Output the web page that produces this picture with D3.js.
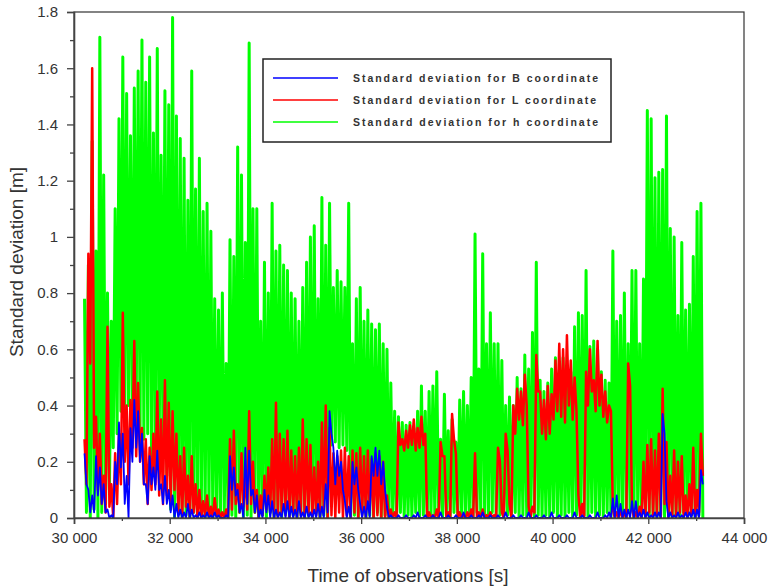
<!DOCTYPE html>
<html>
<head>
<meta charset="utf-8">
<script src="https://cdn.jsdelivr.net/npm/d3@7"></script>
<style>
  body { margin: 0; background: #fff; }
  text { font-family: "Liberation Sans", Arial, sans-serif; }
</style>
</head>
<body>
<div id="container"></div>
<script>

// values are sampled every 40 s starting at 30 220 s, alternating local high / local low
const sampleStart = 30220;
const sampleStep = 40;

// h coordinate (green)
const greenHi = [
    0.78, 0.90, 1.34, 0.95, 1.71, 1.22, 0.80, 0.70, 1.10, 1.42,
    1.64, 1.51, 1.36, 1.53, 1.59, 1.70, 1.55, 1.64, 1.37, 1.67,
    1.29, 1.52, 1.47, 1.78, 1.43, 1.35, 1.28, 1.13, 1.59, 1.17,
    1.28, 1.09, 1.12, 1.02, 0.78, 0.74, 0.80, 0.55, 0.99, 0.93,
    1.32, 1.22, 0.98, 1.69, 1.10, 1.10, 0.70, 0.91, 0.80, 1.12,
    0.95, 0.97, 0.90, 0.88, 0.80, 0.78, 0.70, 0.82, 0.91, 1.00,
    1.04, 0.78, 1.14, 0.97, 1.12, 0.82, 0.88, 0.84, 0.82, 1.12,
    0.62, 0.78, 0.82, 0.70, 0.74, 0.69, 0.67, 0.69, 0.62, 0.60,
    0.48, 0.38, 0.36, 0.34, 0.33, 0.34, 0.32, 0.38, 0.47, 0.38,
    0.45, 0.47, 0.52, 0.28, 0.44, 0.31, 0.35, 0.27, 0.42, 0.45,
    0.40, 0.50, 1.01, 0.53, 0.94, 0.62, 0.73, 0.62, 0.62, 0.56,
    0.40, 0.43, 0.40, 0.50, 0.46, 0.58, 0.53, 0.66, 0.91, 0.49,
    0.45, 0.48, 0.53, 0.57, 0.49, 0.57, 0.48, 0.52, 0.68, 0.73,
    0.72, 0.88, 0.61, 0.63, 0.60, 0.52, 0.49, 0.48, 0.95, 0.70,
    0.72, 0.80, 0.62, 0.88, 0.88, 0.62, 0.85, 1.45, 1.42, 1.21,
    1.23, 1.24, 1.43, 1.03, 1.00, 0.72, 0.98, 0.74, 0.76, 0.93,
    1.09, 1.12
];
const greenLo = [
    0.02, 0.00, 0.03, 0.00, 0.02, 0.05, 0.10, 0.25, 0.30, 0.38,
    0.36, 0.40, 0.35, 0.38, 0.30, 0.28, 0.30, 0.22, 0.20, 0.24,
    0.22, 0.15, 0.03, 0.00, 0.02, 0.00, 0.01, 0.00, 0.02, 0.00,
    0.01, 0.00, 0.02, 0.00, 0.01, 0.00, 0.02, 0.00, 0.01, 0.00,
    0.02, 0.00, 0.01, 0.00, 0.02, 0.00, 0.01, 0.00, 0.02, 0.00,
    0.01, 0.00, 0.02, 0.00, 0.01, 0.00, 0.02, 0.00, 0.01, 0.00,
    0.02, 0.00, 0.01, 0.00, 0.26, 0.27, 0.25, 0.26, 0.24, 0.00,
    0.01, 0.00, 0.02, 0.00, 0.01, 0.00, 0.02, 0.00, 0.01, 0.00,
    0.01, 0.00, 0.02, 0.00, 0.01, 0.00, 0.02, 0.00, 0.01, 0.00,
    0.01, 0.00, 0.02, 0.00, 0.01, 0.00, 0.02, 0.00, 0.01, 0.00,
    0.01, 0.00, 0.02, 0.00, 0.01, 0.00, 0.02, 0.00, 0.01, 0.00,
    0.01, 0.00, 0.02, 0.00, 0.01, 0.00, 0.02, 0.00, 0.01, 0.00,
    0.01, 0.00, 0.02, 0.00, 0.01, 0.00, 0.02, 0.00, 0.01, 0.00,
    0.01, 0.00, 0.02, 0.00, 0.01, 0.00, 0.02, 0.00, 0.01, 0.00,
    0.01, 0.00, 0.02, 0.00, 0.01, 0.00, 0.02, 0.00, 0.01, 0.00,
    0.01, 0.00, 0.02, 0.00, 0.01, 0.00, 0.02, 0.00, 0.01, 0.00,
    0.01, 0.00
];

// L coordinate (red)
const redHi = [
    0.28, 0.94, 1.60, 0.36, 0.30, 0.15, 0.68, 0.12, 0.23, 0.30,
    0.73, 0.40, 0.42, 0.63, 0.48, 0.32, 0.28, 0.25, 0.30, 0.45,
    0.35, 0.49, 0.41, 0.38, 0.30, 0.22, 0.25, 0.15, 0.22, 0.12,
    0.10, 0.06, 0.08, 0.04, 0.07, 0.03, 0.02, 0.03, 0.28, 0.31,
    0.12, 0.23, 0.15, 0.38, 0.20, 0.10, 0.08, 0.15, 0.18, 0.28,
    0.41, 0.30, 0.28, 0.31, 0.24, 0.22, 0.25, 0.35, 0.28, 0.26,
    0.18, 0.20, 0.34, 0.40, 0.32, 0.23, 0.22, 0.24, 0.25, 0.22,
    0.24, 0.23, 0.25, 0.22, 0.24, 0.21, 0.23, 0.22, 0.20, 0.08,
    0.03, 0.02, 0.34, 0.28, 0.31, 0.33, 0.35, 0.32, 0.36, 0.30,
    0.02, 0.01, 0.03, 0.27, 0.22, 0.02, 0.37, 0.23, 0.02, 0.01,
    0.02, 0.03, 0.23, 0.02, 0.03, 0.01, 0.02, 0.01, 0.25, 0.02,
    0.30, 0.05, 0.40, 0.46, 0.45, 0.51, 0.04, 0.04, 0.58, 0.45,
    0.42, 0.47, 0.44, 0.56, 0.62, 0.60, 0.65, 0.56, 0.50, 0.08,
    0.05, 0.52, 0.60, 0.49, 0.63, 0.51, 0.45, 0.40, 0.03, 0.02,
    0.03, 0.02, 0.55, 0.04, 0.02, 0.04, 0.20, 0.26, 0.28, 0.24,
    0.30, 0.46, 0.27, 0.15, 0.24, 0.20, 0.22, 0.08, 0.12, 0.25,
    0.10, 0.30
];
const redLo = [
    0.12, 0.55, 0.25, 0.10, 0.05, 0.02, 0.04, 0.00, 0.05, 0.12,
    0.20, 0.12, 0.25, 0.22, 0.20, 0.12, 0.05, 0.10, 0.12, 0.08,
    0.05, 0.08, 0.05, 0.10, 0.02, 0.00, 0.04, 0.00, 0.02, 0.00,
    0.00, 0.01, 0.00, 0.00, 0.01, 0.00, 0.00, 0.00, 0.03, 0.05,
    0.02, 0.04, 0.03, 0.05, 0.02, 0.00, 0.01, 0.03, 0.02, 0.00,
    0.00, 0.02, 0.01, 0.00, 0.02, 0.00, 0.01, 0.00, 0.02, 0.00,
    0.01, 0.00, 0.02, 0.00, 0.01, 0.00, 0.02, 0.00, 0.01, 0.00,
    0.02, 0.00, 0.01, 0.00, 0.02, 0.00, 0.01, 0.00, 0.00, 0.00,
    0.00, 0.00, 0.26, 0.24, 0.25, 0.26, 0.24, 0.25, 0.26, 0.00,
    0.00, 0.00, 0.00, 0.22, 0.00, 0.00, 0.28, 0.00, 0.00, 0.00,
    0.00, 0.00, 0.00, 0.00, 0.00, 0.00, 0.00, 0.00, 0.20, 0.00,
    0.24, 0.00, 0.30, 0.35, 0.33, 0.40, 0.00, 0.02, 0.45, 0.30,
    0.28, 0.30, 0.35, 0.38, 0.36, 0.34, 0.40, 0.35, 0.38, 0.00,
    0.00, 0.40, 0.45, 0.38, 0.40, 0.36, 0.34, 0.38, 0.00, 0.00,
    0.00, 0.00, 0.47, 0.00, 0.00, 0.00, 0.00, 0.02, 0.00, 0.01,
    0.00, 0.05, 0.00, 0.01, 0.00, 0.02, 0.00, 0.00, 0.01, 0.00,
    0.02, 0.15
];

// B coordinate (blue)
const blueHi = [
    0.23, 0.10, 0.08, 0.22, 0.18, 0.12, 0.03, 0.01, 0.20, 0.34,
    0.30, 0.15, 0.32, 0.42, 0.38, 0.30, 0.12, 0.22, 0.18, 0.24,
    0.12, 0.15, 0.10, 0.08, 0.05, 0.03, 0.02, 0.05, 0.03, 0.01,
    0.02, 0.01, 0.02, 0.01, 0.02, 0.01, 0.00, 0.01, 0.22, 0.18,
    0.10, 0.05, 0.25, 0.24, 0.10, 0.08, 0.03, 0.10, 0.08, 0.06,
    0.03, 0.02, 0.05, 0.06, 0.04, 0.03, 0.06, 0.02, 0.04, 0.02,
    0.03, 0.05, 0.04, 0.12, 0.38, 0.25, 0.24, 0.20, 0.06, 0.04,
    0.20, 0.18, 0.05, 0.04, 0.06, 0.22, 0.25, 0.24, 0.20, 0.04,
    0.01, 0.00, 0.01, 0.00, 0.01, 0.00, 0.01, 0.02, 0.00, 0.01,
    0.00, 0.01, 0.00, 0.02, 0.00, 0.01, 0.00, 0.01, 0.00, 0.02,
    0.00, 0.01, 0.00, 0.01, 0.02, 0.00, 0.01, 0.00, 0.01, 0.00,
    0.02, 0.00, 0.01, 0.00, 0.01, 0.00, 0.02, 0.00, 0.01, 0.00,
    0.01, 0.00, 0.02, 0.00, 0.01, 0.00, 0.01, 0.00, 0.02, 0.00,
    0.01, 0.00, 0.01, 0.00, 0.02, 0.00, 0.01, 0.02, 0.07, 0.08,
    0.05, 0.03, 0.03, 0.06, 0.06, 0.02, 0.03, 0.02, 0.01, 0.02,
    0.02, 0.37, 0.06, 0.02, 0.01, 0.02, 0.01, 0.02, 0.02, 0.03,
    0.03, 0.17
];
const blueLo = [
    0.12, 0.02, 0.02, 0.08, 0.05, 0.02, 0.00, 0.00, 0.12, 0.18,
    0.05, 0.00, 0.20, 0.25, 0.20, 0.12, 0.05, 0.12, 0.10, 0.10,
    0.05, 0.05, 0.02, 0.00, 0.00, 0.00, 0.00, 0.00, 0.00, 0.00,
    0.00, 0.00, 0.00, 0.00, 0.00, 0.00, 0.00, 0.00, 0.10, 0.08,
    0.02, 0.00, 0.05, 0.08, 0.02, 0.00, 0.00, 0.02, 0.00, 0.00,
    0.00, 0.00, 0.00, 0.00, 0.00, 0.00, 0.00, 0.00, 0.00, 0.00,
    0.00, 0.00, 0.00, 0.02, 0.30, 0.12, 0.15, 0.10, 0.00, 0.00,
    0.12, 0.10, 0.00, 0.00, 0.00, 0.15, 0.15, 0.12, 0.10, 0.00,
    0.00, 0.00, 0.00, 0.00, 0.00, 0.00, 0.00, 0.00, 0.00, 0.00,
    0.00, 0.00, 0.00, 0.00, 0.00, 0.00, 0.00, 0.00, 0.00, 0.00,
    0.00, 0.00, 0.00, 0.00, 0.00, 0.00, 0.00, 0.00, 0.00, 0.00,
    0.00, 0.00, 0.00, 0.00, 0.00, 0.00, 0.00, 0.00, 0.00, 0.00,
    0.00, 0.00, 0.00, 0.00, 0.00, 0.00, 0.00, 0.00, 0.00, 0.00,
    0.00, 0.00, 0.00, 0.00, 0.00, 0.00, 0.00, 0.00, 0.00, 0.00,
    0.00, 0.00, 0.00, 0.00, 0.00, 0.00, 0.00, 0.00, 0.00, 0.00,
    0.00, 0.30, 0.00, 0.00, 0.00, 0.00, 0.00, 0.00, 0.00, 0.00,
    0.00, 0.12
];

const xTicks = [30000, 32000, 34000, 36000, 38000, 40000, 42000, 44000];
const xTickLabels = ["30 000", "32 000", "34 000", "36 000", "38 000", "40 000", "42 000", "44 000"];
const xMinorTicks = [31000, 33000, 35000, 37000, 39000, 41000, 43000];
const yTicks = [0, 0.2, 0.4, 0.6, 0.8, 1, 1.2, 1.4, 1.6, 1.8];
const yTickLabels = ["0", "0.2", "0.4", "0.6", "0.8", "1", "1.2", "1.4", "1.6", "1.8"];
const yMinorTicks = [0.1, 0.3, 0.5, 0.7, 0.9, 1.1, 1.3, 1.5, 1.7];

const seriesNames = [
    "Standard deviation for B coordinate",
    "Standard deviation for L coordinate",
    "Standard deviation for h coordinate"
];
const seriesColors = ["#0000ff", "#ff0000", "#00ff00"];
const seriesWidths = [1.8, 2.5, 3.0];


function main() {

    const svgWidth = 772;
    const svgHeight = 588;

    const svg = d3.select("#container")
        .append("svg")
        .attr("width", svgWidth)
        .attr("height", svgHeight);

    const xScale = d3.scaleLinear()
        .domain([30000, 44000])
        .range([74, 744]);

    const yScale = d3.scaleLinear()
        .domain([0, 1.8])
        .range([518, 12]);

    // hi, lo, hi, lo ... at consecutive sample times
    function toPoints(hi, lo) {
        if (hi.length !== lo.length) throw new Error("length mismatch " + hi.length + " / " + lo.length);
        return hi.flatMap((h, i) => [h, lo[i]])
            .map((v, k) => ({t: sampleStart + k * sampleStep, v: v}));
    }

    const series = [
        toPoints(blueHi, blueLo),
        toPoints(redHi, redLo),
        toPoints(greenHi, greenLo)
    ];

    const line = d3.line()
        .x(d => xScale(d.t))
        .y(d => yScale(d.v));

    svg.append("clipPath")
        .attr("id", "plotClip")
        .append("rect")
        .attr("x", xScale(30000))
        .attr("y", yScale(1.8))
        .attr("width", xScale(44000) - xScale(30000))
        .attr("height", yScale(0) - yScale(1.8));

    const plot = svg.append("g")
        .attr("clip-path", "url(#plotClip)");

    // green first, blue last (as in the original)
    [2, 1, 0].forEach(i => {
        plot.append("path")
            .datum(series[i])
            .attr("fill", "none")
            .attr("stroke", seriesColors[i])
            .attr("stroke-width", seriesWidths[i])
            .attr("stroke-linejoin", "round")
            .attr("d", line);
    });

    // frame
    svg.append("rect")
        .attr("x", xScale(30000))
        .attr("y", yScale(1.8))
        .attr("width", xScale(44000) - xScale(30000))
        .attr("height", yScale(0) - yScale(1.8))
        .attr("fill", "none")
        .attr("stroke", "#333")
        .attr("stroke-width", 1.2);

    // axes
    svg.append("g")
        .attr("transform", `translate(0,${yScale(0)})`)
        .call(d3.axisBottom(xScale)
            .tickValues(xTicks)
            .tickFormat((d, i) => xTickLabels[i])
            .tickSizeOuter(0)
            .tickSize(6)
            .tickPadding(8));

    svg.append("g")
        .attr("transform", `translate(0,${yScale(0)})`)
        .call(d3.axisBottom(xScale)
            .tickValues(xMinorTicks)
            .tickFormat("")
            .tickSizeOuter(0)
            .tickSize(3))
        .call(g => g.select(".domain").remove());

    svg.append("g")
        .attr("transform", `translate(${xScale(30000)},0)`)
        .call(d3.axisLeft(yScale)
            .tickValues(yTicks)
            .tickFormat((d, i) => yTickLabels[i])
            .tickSizeOuter(0)
            .tickSize(7)
            .tickPadding(9));

    svg.append("g")
        .attr("transform", `translate(${xScale(30000)},0)`)
        .call(d3.axisLeft(yScale)
            .tickValues(yMinorTicks)
            .tickFormat("")
            .tickSizeOuter(0)
            .tickSize(4))
        .call(g => g.select(".domain").remove());

    svg.selectAll(".domain")
        .attr("stroke", "#444")
        .attr("stroke-width", 1.6);
    svg.selectAll(".tick line")
        .attr("stroke", "#444")
        .attr("stroke-width", 1.3);
    svg.selectAll(".tick text")
        .attr("font-family", "Liberation Sans, Arial, sans-serif")
        .attr("font-size", 15)
        .attr("fill", "#333");

    // axis titles
    svg.append("text")
        .attr("x", 408)
        .attr("y", 582)
        .attr("text-anchor", "middle")
        .attr("font-size", 19)
        .attr("fill", "#333")
        .text("Time of observations [s]");

    svg.append("text")
        .attr("transform", "translate(23,262) rotate(-90)")
        .attr("text-anchor", "middle")
        .attr("font-size", 19)
        .attr("fill", "#333")
        .text("Standard deviation [m]");

    // legend
    const legend = svg.append("g");
    legend.append("rect")
        .attr("x", 263)
        .attr("y", 59)
        .attr("width", 348)
        .attr("height", 83)
        .attr("fill", "#fff")
        .attr("stroke", "#222")
        .attr("stroke-width", 1.5);

    seriesNames.forEach((name, i) => {
        const yy = 78 + i * 22;
        legend.append("line")
            .attr("x1", 273)
            .attr("x2", 338)
            .attr("y1", yy)
            .attr("y2", yy)
            .attr("stroke", seriesColors[i])
            .attr("stroke-width", 1.5);
        legend.append("text")
            .attr("x", 353)
            .attr("y", yy + 4)
            .attr("font-family", "DejaVu Sans, sans-serif")
            .attr("font-weight", "bold")
            .attr("font-size", 10.5)
            .attr("fill", "#333")
            .attr("textLength", i === 1 ? 243 : 245)
            .attr("lengthAdjust", "spacing")
            .text(name);
    });
}

main();
</script>
</body>
</html>
